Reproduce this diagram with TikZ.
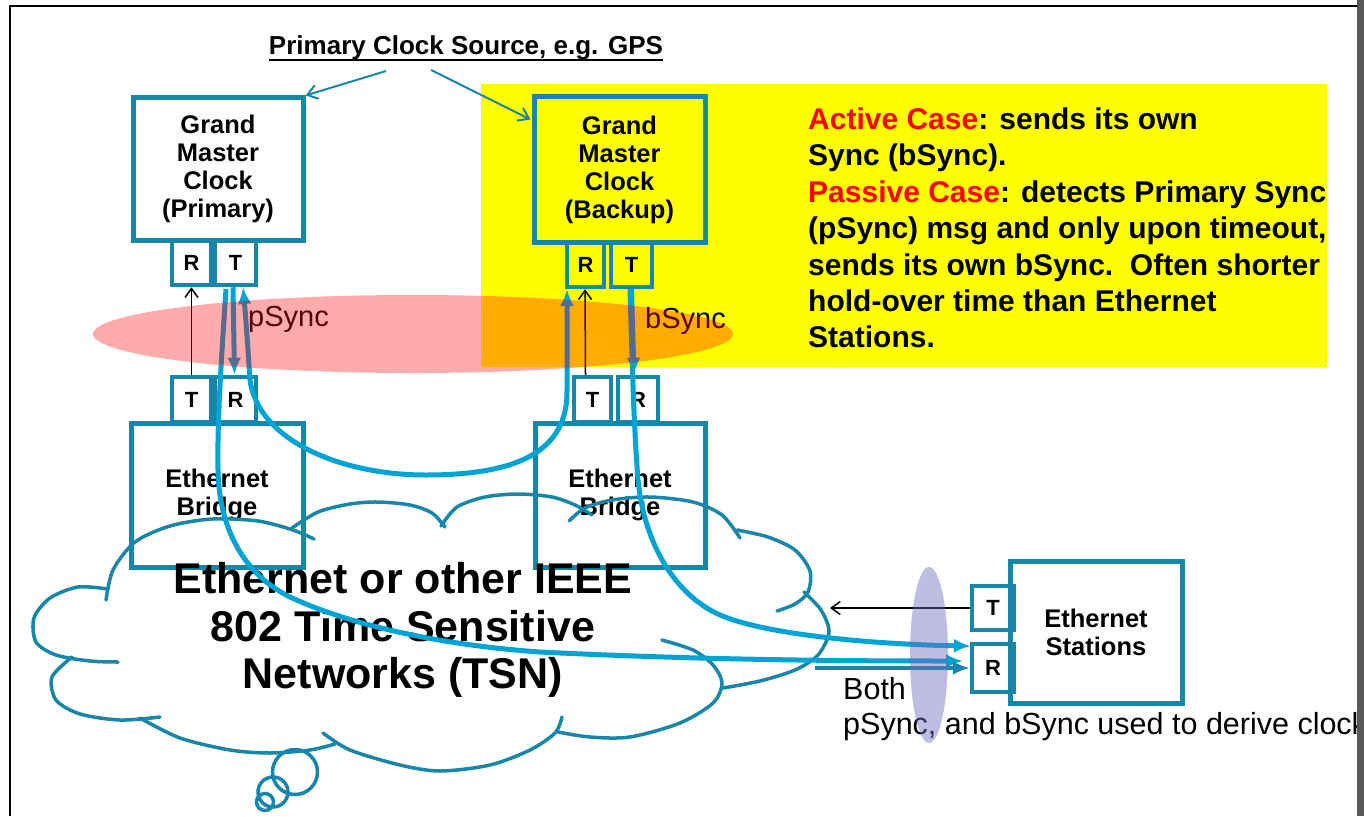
\documentclass[tikz,border=0pt]{standalone}
\usepackage{fontspec}
\setmainfont{Liberation Sans}
\usetikzlibrary{arrows.meta,shapes.geometric}
\definecolor{boxteal}{RGB}{24,134,168}
\definecolor{arrowcyan}{RGB}{0,164,212}
\definecolor{lavfill}{RGB}{110,110,190}
\definecolor{framegray}{RGB}{88,88,88}
\definecolor{hiyellow}{RGB}{255,255,0}
\begin{document}
\begin{tikzpicture}[x=1bp,y=-1bp,
  bigbox/.style={draw=boxteal,line width=5bp,inner sep=0pt,align=center,
    font=\bfseries\fontsize{25.5bp}{28bp}\selectfont},
  portbox/.style={draw=boxteal,line width=4.5bp,inner sep=0pt,
    font=\bfseries\fontsize{22bp}{24bp}\selectfont},
  yeltext/.style={anchor=base west,inner sep=0pt,font=\bfseries\fontsize{30bp}{36bp}\selectfont},
  cloudtext/.style={anchor=base,inner sep=0pt,font=\bfseries\fontsize{43bp}{47bp}\selectfont},
  synclabel/.style={anchor=base west,inner sep=0pt,font=\fontsize{29bp}{32bp}\selectfont},
  notetext/.style={anchor=base west,inner sep=0pt,font=\fontsize{30.5bp}{34bp}\selectfont},
  cloudline/.style={draw=boxteal,line width=3.5bp,line cap=round},
  cyanarrow/.style={draw=arrowcyan,line width=5bp,-{Latex[length=17bp,width=14bp]}},
  cyanboth/.style={draw=arrowcyan,line width=5bp,{Latex[length=17bp,width=14bp]}-{Latex[length=17bp,width=14bp]}},
  blackarrow/.style={draw=black,line width=1.5bp,-{Straight Barb[length=9bp,width=13bp]}},
  srcarrow/.style={draw=boxteal,line width=2bp,-{Straight Barb[length=10bp,width=14bp]}}
]
\useasboundingbox (0,0) rectangle (1364,816);
\fill[white] (0,0) rectangle (1364,816);

% yellow highlight
\fill[hiyellow] (481,84) rectangle (1327,367);

% title
\node[anchor=base,inner sep=0pt,font=\bfseries\fontsize{26bp}{30bp}\selectfont] (title) at (466,55) {Primary Clock Source, e.g. GPS};
\draw[line width=2bp] ([yshift=-5bp]title.base west) -- ([yshift=-5bp]title.base east);

% boxes
\node[bigbox,minimum width=170bp,minimum height=142bp] (gmp) at (218,169) {Grand\\Master\\Clock\\(Primary)};
\node[bigbox,minimum width=171bp,minimum height=145bp] (gmb) at (619.5,169.5) {Grand\\Master\\Clock\\(Backup)};
\node[portbox,minimum width=39bp,minimum height=45bp] (gpR) at (191.5,262.5) {R};
\node[portbox,minimum width=41bp,minimum height=45bp] (gpT) at (235.5,262.5) {T};
\node[portbox,minimum width=37bp,minimum height=44bp] (gbR) at (585.5,265) {R};
\node[portbox,minimum width=41bp,minimum height=44bp] (gbT) at (631.5,265) {T};
\node[portbox,minimum width=39bp,minimum height=45bp] (blT) at (191.5,399.5) {T};
\node[portbox,minimum width=41bp,minimum height=45bp] (blR) at (235.5,399.5) {R};
\node[portbox,minimum width=37bp,minimum height=45bp] (brT) at (592.5,399.5) {T};
\node[portbox,minimum width=40bp,minimum height=45bp] (brR) at (638,399.5) {R};
\node[bigbox,minimum width=172bp,minimum height=144bp] (bl) at (217,495) {Ethernet\\Bridge};
\node[bigbox,minimum width=170bp,minimum height=144bp] (br) at (620,495) {Ethernet\\Bridge};
\node[bigbox,minimum width=172bp,minimum height=142bp] (st) at (1096,632) {Ethernet\\Stations};
\node[portbox,minimum width=42bp,minimum height=44bp] (stT) at (993,608) {T};
\node[portbox,minimum width=42bp,minimum height=48bp] (stR) at (993,668) {R};

% source arrows
\coordinate (srcA) at (386,71);
\coordinate (srcB) at (431,70);
\draw[srcarrow] (srcA) -- (gmp.north east);
\draw[srcarrow] (srcB) -- ([xshift=-1bp,yshift=-25bp]gmb.north west);

% cloud
\draw[cloudline] plot[smooth] coordinates {(108,589) (78,587) (50,598) (34,618) (36,642) (56,655) (90,661) (118,662)};
\draw[cloudline] plot[smooth] coordinates {(106,600) (113,570) (135,542) (170,526) (212,519) (258,521) (293,530) (314,539)};
\draw[cloudline] plot[smooth] coordinates {(292,528) (318,512) (350,504) (378,502) (410,505) (432,513) (445,527)};
\draw[cloudline] plot[smooth] coordinates {(441,526) (457,507) (485,497) (518,494) (552,497) (575,505) (592,515)};
\draw[cloudline] plot[smooth] coordinates {(569,521) (585,508) (612,500) (650,497) (693,502) (722,515) (740,538)};
\draw[cloudline] plot[smooth] coordinates {(737,530) (768,537) (795,550) (810,571) (808,592) (795,604) (777,611)};
\draw[cloudline] plot[smooth] coordinates {(804,592) (821,610) (829,632) (818,655) (795,670) (760,681) (723,688)};
\draw[cloudline] plot[smooth] coordinates {(662,640) (693,650) (713,665) (722,683) (713,703) (680,723) (630,737) (590,737) (558,732)};
\draw[cloudline] plot[smooth] coordinates {(562,717) (555,733) (530,750) (490,765) (440,771) (400,765) (350,750) (323,733)};
\draw[cloudline] plot[smooth] coordinates {(335,744) (310,750) (270,753) (230,750) (180,738) (140,718)};
\draw[cloudline] plot[smooth] coordinates {(160,717) (120,720) (80,714) (56,700) (52,677) (72,657)};
\draw[cloudline] (295,772) circle[radius=22.5];
\draw[cloudline] (273,792) circle[radius=15];
\draw[cloudline] (265,802) circle[radius=8.5];

\node[cloudtext] (ct1) at (403,593) {Ethernet or other IEEE};
\node[cloudtext] (ct2) at (403,641) {802 Time Sensitive};
\node[cloudtext] (ct3) at (403,688) {Networks (TSN)};

% yellow text
\node[yeltext] (y1) at (808,129) {\textcolor{red}{Active Case}: sends its own};
\node[yeltext] (y2) at (808,165.5) {Sync (bSync).};
\node[yeltext] (y3) at (808,202) {\textcolor{red}{Passive Case}: detects Primary Sync};
\node[yeltext] (y4) at (808,238.5) {(pSync) msg and only upon timeout,};
\node[yeltext] (y5) at (808,275) {sends its own bSync.\ \ Often shorter};
\node[yeltext] (y6) at (808,311) {hold-over time than Ethernet};
\node[yeltext] (y7) at (808,347.5) {Stations.};

% connectors
\coordinate (aS) at (226,289);
\coordinate (aE) at (963,661);
\draw[cyanarrow] (aS) .. controls (222,350) and (217,420) .. (218,470)
  .. controls (219,530) and (245,575) .. (290,597)
  .. controls (350,625) and (440,645) .. (540,652)
  .. controls (700,660) and (850,661) .. (aE);
\coordinate (dS) at (630,289);
\coordinate (dE) at (971,646);
\draw[cyanarrow] (dS) .. controls (632,360) and (634,430) .. (638,480)
  .. controls (645,550) and (680,600) .. (725,617)
  .. controls (780,638) and (900,645) .. (dE);
\coordinate (cS) at (243,287);
\coordinate (cE) at (567,289);
\draw[cyanboth] (cS) .. controls (246,320) and (248,350) .. (250,380)
  .. controls (258,440) and (340,475) .. (426,475)
  .. controls (520,475) and (568,450) .. (567,390)
  .. controls (567,350) and (567,320) .. (cE);
\draw[cyanarrow] ([xshift=-2.5bp]gpT.south) -- ([xshift=-1bp]blR.north);
\draw[cyanarrow] (gbT.south) -- ([xshift=-4bp]brR.north);
\coordinate (tS) at (815,668);
\draw[draw=boxteal,line width=4bp,-{Latex[length=17bp,width=14bp]}] (tS) -- (stR.west);
\draw[blackarrow] (blT.north) -- (gpR.south);
\draw[blackarrow] ([xshift=-7bp]brT.north) -- ([xshift=-0.5bp]gbR.south);
\coordinate (tE) at (830,608);
\draw[blackarrow] (stT.west) -- (tE);

% sync labels
\node[synclabel] (psl) at (248,326) {pSync};
\node[synclabel] (bsl) at (645,328) {bSync};

% pink ellipse
\fill[red,opacity=0.33] (413,334) ellipse[x radius=320, y radius=39];

% note
\node[notetext] (n1) at (843,699) {Both};
\node[notetext] (n2) at (843,734) {pSync, and bSync used to derive clock};
\fill[lavfill,opacity=0.45] (929,655) ellipse[x radius=19, y radius=88];

% frame
\draw[line width=2.5bp] (10,816) -- (10,6) -- (1357,6);
\fill[framegray] (1357,0) rectangle (1364,816);
\end{tikzpicture}
\end{document}
